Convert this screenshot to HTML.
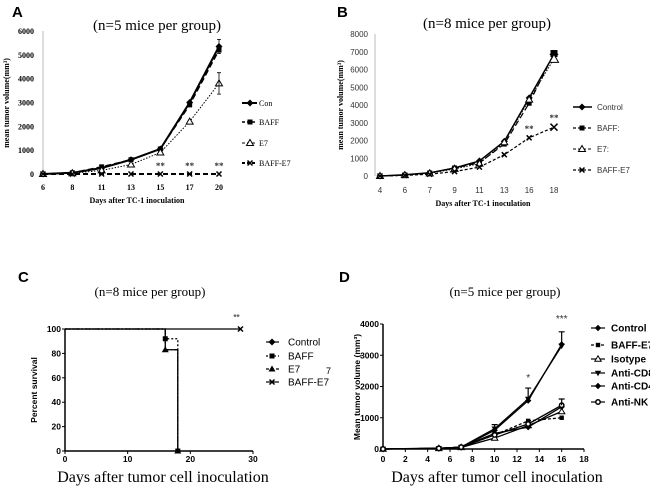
<!DOCTYPE html>
<html><head><meta charset="utf-8"><style>
body{margin:0;background:#fff;}
svg{display:block;}
</style></head><body>
<svg id="fig" width="650" height="486" xmlns="http://www.w3.org/2000/svg">
<g font-family="Liberation Sans, Arial, sans-serif" font-weight="bold" font-size="15">
<text x="12" y="17">A</text>
<text x="337" y="17">B</text>
<text x="18" y="282">C</text>
<text x="339" y="282">D</text>
</g>
</svg>
<script>
// Panel A data
const aCats=['6','8','11','13','15','17','20'];
const aCon=[0,50,250,600,1050,3000,5350];
const aBaff=[0,50,300,600,1050,2900,5200];
const aE7=[0,30,150,400,900,2200,3800];
const aBaffE7=[0,0,0,0,0,0,0];
const aTicks=[0,1000,2000,3000,4000,5000,6000];
// Panel B data
const bCats=['4','6','7','9','11','13','16','18'];
const bControl=[0,70,180,450,850,1950,4400,6850];
const bBaff=[0,60,170,450,750,1800,4100,6900];
const bE7=[0,50,150,400,700,1900,4300,6600];
const bBaffE7=[0,30,100,250,500,1200,2150,2750];
const bTicks=[0,1000,2000,3000,4000,5000,6000,7000,8000];
// Panel C data (survival step points: day, percent)
const cDays=[0,16,18,28];
const cControl=[100,83,0,null];
const cBaff=[100,92,0,null];
const cE7=[100,83,0,null];
const cBaffE7=[100,100,100,100];
const cTicksY=[0,20,40,60,80,100];
const cTicksX=[0,10,20,30];
// Panel D data
const dDays=[0,5,7,10,13,16];
const dControl=[0,30,50,600,1550,3350];
const dBaffE7=[0,20,60,450,900,1000];
const dIsotype=[0,20,50,350,750,1200];
const dCD8=[0,20,60,650,1600,3300];
const dCD4=[0,20,60,500,700,1350];
const dNK=[0,20,60,450,800,1400];
const dTicksY=[0,1000,2000,3000,4000];
const dTicksX=[0,2,4,6,8,10,12,14,16,18];

const NS='http://www.w3.org/2000/svg';
const svg=document.getElementById('fig');
function mk(tag,attrs,parent,txt){const e=document.createElementNS(NS,tag);for(const k in attrs)e.setAttribute(k,attrs[k]);if(txt!==undefined)e.textContent=txt;(parent||svg).appendChild(e);return e;}
function marker(type,x,y,g,size){
  const s=size||3;let e;
  if(type==='diamond')e=mk('polygon',{points:`${x},${y-s-1} ${x+s+1},${y} ${x},${y+s+1} ${x-s-1},${y}`,fill:'#000'},g);
  else if(type==='square')e=mk('rect',{x:x-s,y:y-s,width:2*s,height:2*s,fill:'#000'},g);
  else if(type==='tri')e=mk('polygon',{points:`${x},${y-s-1} ${x+s+1},${y+s} ${x-s-1},${y+s}`,fill:'#fff',stroke:'#000','stroke-width':1},g);
  else if(type==='trifill')e=mk('polygon',{points:`${x},${y-s-1} ${x+s+1},${y+s} ${x-s-1},${y+s}`,fill:'#000'},g);
  else if(type==='tridown')e=mk('polygon',{points:`${x-s-1},${y-s} ${x+s+1},${y-s} ${x},${y+s+1}`,fill:'#000'},g);
  else if(type==='circle')e=mk('circle',{cx:x,cy:y,r:s,fill:'#fff',stroke:'#000','stroke-width':1.5},g);
  else if(type==='x'){e=mk('path',{d:`M${x-s},${y-s}L${x+s},${y+s}M${x-s},${y+s}L${x+s},${y-s}`,stroke:'#000','stroke-width':1.5},g);}
  
  
}
const serif='Liberation Serif, Times New Roman, serif';
const sans='Liberation Sans, Arial, sans-serif';

// ---------- Panel A ----------
(function(){
  const g=mk('g',{});
  
  
  const x0=43,x1=219,yT=31,yB=174,ymax=6000;
  const X=i=>x0+i*(x1-x0)/(aCats.length-1), Y=v=>yB-(yB-yT)*v/ymax;
  mk('text',{x:157,y:30,'text-anchor':'middle','font-family':serif,'font-size':15},g,'(n=5 mice per group)');
  mk('line',{x1:x0,y1:yT,x2:x0,y2:yB,stroke:'#bbb'},g);
  aTicks.forEach(t=>{mk('text',{x:34,y:Y(t)+3,'text-anchor':'end','font-family':serif,'font-size':8,'font-weight':'bold'},g,t);});
  aCats.forEach((c,i)=>mk('text',{x:X(i),y:190,'text-anchor':'middle','font-family':serif,'font-size':8,'font-weight':'bold'},g,c));
  mk('text',{x:137,y:203,'text-anchor':'middle','font-family':serif,'font-size':8,'font-weight':'bold'},g,'Days after TC-1 inoculation');
  mk('text',{transform:'translate(9,103) rotate(-90)','text-anchor':'middle','font-family':serif,'font-size':8,'font-weight':'bold'},g,'mean tumor volume(mm³)');
  const series=[[aCon,'diamond','none',2,'Con'],[aBaff,'square','6,3',1.5,'BAFF'],[aE7,'tri','1.5,1.5',1,'E7'],[aBaffE7,'x','5,3',2,'BAFF-E7']];
  series.forEach((s,k)=>{
    const p=mk('polyline',{points:s[0].map((v,i)=>X(i)+','+Y(v)).join(' '),fill:'none',stroke:'#000','stroke-width':s[3],'stroke-dasharray':s[2]},g);
    
    
    s[0].forEach((v,i)=>marker(s[1],X(i),Y(v),g,2.5));
    const ly=[103,122,143,163][k];
    mk('line',{x1:242,y1:ly,x2:257,y2:ly,stroke:'#000','stroke-width':s[3],'stroke-dasharray':s[2]==='none'?'none':'3,2'},g);
    marker(s[1],250,ly,g,2.5);
    const lt=mk('text',{x:259,y:ly+3,'font-family':serif,'font-size':8},g,s[4]);
    
    
  });
  [[6,5350,300],[6,3800,450]].forEach(e=>mk('path',{d:`M${X(e[0])},${Y(e[1]-e[2])}V${Y(e[1]+e[2])}M${X(e[0])-2},${Y(e[1]+e[2])}h4M${X(e[0])-2},${Y(e[1]-e[2])}h4`,stroke:'#000','stroke-width':0.8},g));
  [4,5,6].forEach(i=>mk('text',{x:X(i),y:169,'text-anchor':'middle','font-family':serif,'font-size':9,'font-weight':'bold',fill:'#333'},g,'**'));
})();

// ---------- Panel B ----------
(function(){
  const g=mk('g',{});
  
  
  const ax=375,x0=380,x1=554,yT=34,yB=176,ymax=8000;
  const X=i=>x0+i*(x1-x0)/(bCats.length-1), Y=v=>yB-(yB-yT)*v/ymax;
  mk('text',{x:487,y:28,'text-anchor':'middle','font-family':serif,'font-size':15},g,'(n=8 mice per group)');
  mk('line',{x1:ax,y1:yT,x2:ax,y2:yB,stroke:'#bbb'},g);
  bTicks.forEach(t=>mk('text',{x:368,y:Y(t)+3,'text-anchor':'end','font-family':sans,'font-size':8,fill:'#333'},g,t));
  bCats.forEach((c,i)=>mk('text',{x:X(i),y:193,'text-anchor':'middle','font-family':sans,'font-size':8,fill:'#333'},g,c));
  mk('text',{x:483,y:206,'text-anchor':'middle','font-family':serif,'font-size':8,'font-weight':'bold'},g,'Days after TC-1 inoculation');
  mk('text',{transform:'translate(343,105) rotate(-90)','text-anchor':'middle','font-family':serif,'font-size':8,'font-weight':'bold'},g,'mean tumor volume(mm³)');
  const series=[[bControl,'diamond','none',1.5,'Control'],[bBaff,'square','6,3',1.2,'BAFF:'],[bE7,'tri','1.5,1.5',1,'E7:'],[bBaffE7,'x','3,2',1.2,'BAFF-E7']];
  series.forEach((s,k)=>{
    const p=mk('polyline',{points:s[0].map((v,i)=>X(i)+','+Y(v)).join(' '),fill:'none',stroke:'#000','stroke-width':s[3],'stroke-dasharray':s[2]},g);
    
    
    s[0].forEach((v,i)=>marker(s[1],X(i),Y(v),g,i===s[0].length-1?3.5:2.5));
    const ly=[107,128,149,170][k];
    mk('line',{x1:573,y1:ly,x2:592,y2:ly,stroke:'#000','stroke-width':s[3],'stroke-dasharray':s[2]==='none'?'none':'3,2'},g);
    marker(s[1],582,ly,g,2.5);
    const lt=mk('text',{x:597,y:ly+3,'font-family':sans,'font-size':8,fill:'#333'},g,s[4]);
    
    
  });
  [6,7].forEach(i=>mk('text',{x:X(i),y:Y(bBaffE7[i])-6,'text-anchor':'middle','font-family':serif,'font-size':9,'font-weight':'bold',fill:'#333'},g,'**'));
})();

// ---------- Panel C ----------
(function(){
  const g=mk('g',{});
  
  
  const x0=65,x1=253,yT=329,yB=451;
  const X=d=>x0+(x1-x0)*d/30, Y=v=>yB-(yB-yT)*v/100;
  mk('text',{x:150,y:296,'text-anchor':'middle','font-family':serif,'font-size':13},g,'(n=8 mice per group)');
  mk('path',{d:`M${x0},${yT}V${yB}H${x1}`,fill:'none',stroke:'#000','stroke-width':1.5},g);
  cTicksY.forEach(t=>{mk('line',{x1:x0-3,y1:Y(t),x2:x0,y2:Y(t),stroke:'#000'},g);mk('text',{x:x0-4,y:Y(t)+3,'text-anchor':'end','font-family':sans,'font-size':8.5,'font-weight':'bold'},g,t);});
  cTicksX.forEach(t=>{mk('line',{x1:X(t),y1:yB,x2:X(t),y2:yB+3,stroke:'#000'},g);mk('text',{x:X(t),y:462,'text-anchor':'middle','font-family':sans,'font-size':8.5,'font-weight':'bold'},g,t);});
  mk('text',{x:163,y:482,'text-anchor':'middle','font-family':serif,'font-size':16},g,'Days after tumor cell inoculation');
  mk('text',{transform:'translate(37,390) rotate(-90)','text-anchor':'middle','font-family':sans,'font-size':8.5,'font-weight':'bold'},g,'Percent survival');
  const series=[[cBaffE7,'x','none','BAFF-E7'],[cControl,'diamond','none','Control'],[cBaff,'square','2,2','BAFF'],[cE7,'trifill','5,2,1,2','E7']];
  series.forEach(s=>{
    let d='',prev=null;
    cDays.forEach((day,i)=>{const v=s[0][i];if(v===null)return;
      if(prev===null)d+=`M${X(day)},${Y(v)}`;else d+=`H${X(day)}V${Y(v)}`;prev=v;});
    const p=mk('path',{d,fill:'none',stroke:'#000','stroke-width':1.3,'stroke-dasharray':s[2]},g);
    
    
    if(s[3]==='BAFF-E7')marker('x',X(28),Y(100),g,2.5);
    else if(s[3]!=='Control'){marker(s[1],X(16),Y(s[0][1]),g,2.5);marker(s[1],X(18),Y(0),g,2.5);}
  });
  mk('text',{x:X(28)-4,y:320,'text-anchor':'middle','font-family':sans,'font-size':8,'font-weight':'bold',fill:'#555'},g,'**');
  const leg=[['diamond','none','Control'],['square','2,2','BAFF'],['trifill','3,2','E7'],['x','none','BAFF-E7']];
  leg.forEach((l,k)=>{const ly=[342,356,369,382][k];
    mk('line',{x1:266,y1:ly,x2:279,y2:ly,stroke:'#000','stroke-width':1.2,'stroke-dasharray':l[1]},g);
    marker(l[0],272,ly,g,2.5);
    const lt=mk('text',{x:288,y:ly+3.5,'font-family':sans,'font-size':10},g,l[2]);
    
    });
})();

// ---------- Panel D ----------
(function(){
  const g=mk('g',{});
  
  
  const x0=383,x1=584,yT=324,yB=449;
  const X=d=>x0+(x1-x0)*d/18, Y=v=>yB-(yB-yT)*v/4000;
  mk('text',{x:505,y:296,'text-anchor':'middle','font-family':serif,'font-size':13},g,'(n=5 mice per group)');
  mk('path',{d:`M${x0},${yT}V${yB}H${x1}`,fill:'none',stroke:'#000','stroke-width':1.5},g);
  dTicksY.forEach(t=>{mk('line',{x1:x0-3,y1:Y(t),x2:x0,y2:Y(t),stroke:'#000'},g);mk('text',{x:x0-4,y:Y(t)+3,'text-anchor':'end','font-family':sans,'font-size':8.5,'font-weight':'bold'},g,t);});
  dTicksX.forEach(t=>{mk('line',{x1:X(t),y1:yB,x2:X(t),y2:yB+3,stroke:'#000'},g);mk('text',{x:X(t),y:462,'text-anchor':'middle','font-family':sans,'font-size':8.5,'font-weight':'bold'},g,t);});
  mk('text',{x:497,y:482,'text-anchor':'middle','font-family':serif,'font-size':16},g,'Days after tumor cell inoculation');
  mk('text',{transform:'translate(360,387) rotate(-90)','text-anchor':'middle','font-family':sans,'font-size':8.5,'font-weight':'bold'},g,'Mean tumor volume (mm³)');
  const series=[[dControl,'diamond','none','Control'],[dBaffE7,'square','3,2','BAFF-E7'],[dIsotype,'tri','none','Isotype'],[dCD8,'tridown','none','Anti-CD8'],[dCD4,'diamond','none','Anti-CD4'],[dNK,'circle','none','Anti-NK']];
  series.forEach((s,k)=>{
    const p=mk('polyline',{points:s[0].map((v,i)=>X(dDays[i])+','+Y(v)).join(' '),fill:'none',stroke:'#000','stroke-width':1.3,'stroke-dasharray':s[2]},g);
    
    
    s[0].forEach((v,i)=>marker(s[1],X(dDays[i]),Y(v),g,2.2));
    const ly=[328,345,359,373,386,402][k];
    mk('line',{x1:591,y1:ly,x2:605,y2:ly,stroke:'#000','stroke-width':1.2,'stroke-dasharray':s[2]},g);
    marker(s[1],598,ly,g,2.2);
    const lt=mk('text',{x:611,y:ly+3.5,'font-family':sans,'font-size':10,'font-weight':'bold'},g,s[3]);
    
    
  });
  [[13,1600,350],[16,3350,400],[10,600,180],[16,1400,200]].forEach(e=>mk('path',{d:`M${X(e[0])},${Y(e[1])}V${Y(e[1]+e[2])}M${X(e[0])-3},${Y(e[1]+e[2])}h6`,stroke:'#000','stroke-width':1.2},g));
  mk('text',{x:X(13),y:381,'text-anchor':'middle','font-family':sans,'font-size':10,fill:'#333'},g,'*');
  mk('text',{x:X(16),y:322,'text-anchor':'middle','font-family':sans,'font-size':10,fill:'#333'},g,'***');
  mk('text',{x:326,y:374,'font-family':sans,'font-size':9},g,'7');
})();
</script>
</body></html>
